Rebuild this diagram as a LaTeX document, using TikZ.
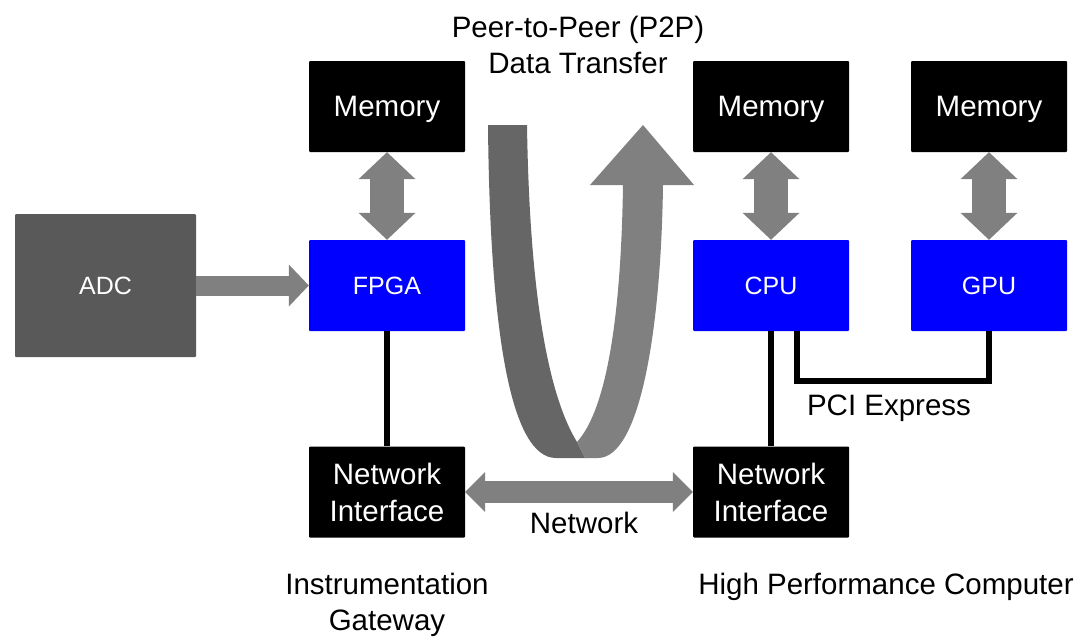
\documentclass[tikz,border=0pt]{standalone}
\usepackage{fontspec}
\setmainfont{Liberation Sans}
\usetikzlibrary{arrows.meta}
\definecolor{arrgray}{HTML}{808080}
\definecolor{darkstrand}{HTML}{666666}
\definecolor{adcgray}{HTML}{595959}
\definecolor{chipblue}{HTML}{0000FF}
\begin{document}
\begin{tikzpicture}[x=1pt,y=-1pt,
  box/.style={inner sep=0pt, minimum width=156pt, minimum height=91pt, text=white, align=center, rounded corners=1pt},
  membox/.style={box, fill=black, font=\fontsize{29.5}{37}\selectfont},
  memword/.style={membox, text depth=0pt},
  chipbox/.style={box, fill=chipblue, font=\fontsize{25}{30}\selectfont},
  wire/.style={draw=black, line width=5.5pt},
  lbl/.style={text=black, align=center, font=\fontsize{29.5}{36}\selectfont}]
\useasboundingbox (0,0) rectangle (1080,640);

% nodes
\node[box, fill=adcgray, minimum width=181pt, minimum height=143pt, font=\fontsize{25}{30}\selectfont] (adc) at (105.5,285.5) {ADC};
\node[memword] (memL) at (387,106.5) {Memory};
\node[chipbox] (fpga) at (387,285.5) {FPGA};
\node[membox] (niL) at (387,492) {Network\\Interface};
\node[memword] (memC) at (771,106.5) {Memory};
\node[chipbox] (cpu) at (771,285.5) {CPU};
\node[membox] (niR) at (771,492) {Network\\Interface};
\node[memword] (memR) at (989,106.5) {Memory};
\node[chipbox] (gpu) at (989,285.5) {GPU};

% labels
\node[lbl] (p2p) at (578,45) {Peer-to-Peer (P2P)\\Data Transfer};
\node[lbl] (netlbl) at (584,523) {Network};
\node[lbl] (pcilbl) at (889,408) {PCI Express};
\node[lbl] (gwlbl) at (387,605) {Instrumentation\\Gateway};
\node[lbl] (hpclbl) at (886,587) {High Performance Computer};

% fat arrows
\draw[arrgray, line width=20pt, -{Triangle[length=20pt,width=42pt,line width=0pt]}] (adc.east) -- (fpga.west);
\draw[arrgray, line width=34pt, {Triangle[length=27pt,width=57pt,line width=0pt]}-{Triangle[length=27pt,width=57pt,line width=0pt]}] (memL.south) -- (fpga.north);
\draw[arrgray, line width=34pt, {Triangle[length=27pt,width=57pt,line width=0pt]}-{Triangle[length=27pt,width=57pt,line width=0pt]}] (memC.south) -- (cpu.north);
\draw[arrgray, line width=34pt, {Triangle[length=27pt,width=57pt,line width=0pt]}-{Triangle[length=27pt,width=57pt,line width=0pt]}] (memR.south) -- (gpu.north);
\draw[arrgray, line width=22pt, {Triangle[length=20pt,width=40pt,line width=0pt]}-{Triangle[length=20pt,width=40pt,line width=0pt]}] (niL.east) -- (niR.west);

% wires
\draw[wire] (fpga.south) -- (niL.north);
\draw[wire] (cpu.south) -- (niR.north);
\coordinate (pciL) at (797,381);
\draw[wire] ([xshift=26pt]cpu.south) -- (pciL) -| (gpu.south);

% U-turn arrow (P2P)
\fill[darkstrand] (488,125) -- (527,125)
  .. controls (529,260) and (542,385) .. (577,442)
  -- (585,458) -- (556,458)
  .. controls (512,458) and (490,340) .. (488,125) -- cycle;
\fill[arrgray] (577,442) -- (585,458) -- (598,458)
  .. controls (640,458) and (661,330) .. (663,185)
  -- (694,185) -- (643,125) -- (590,185) -- (623,185)
  .. controls (621,320) and (606,410) .. (577,442) -- cycle;
\end{tikzpicture}
\end{document}
